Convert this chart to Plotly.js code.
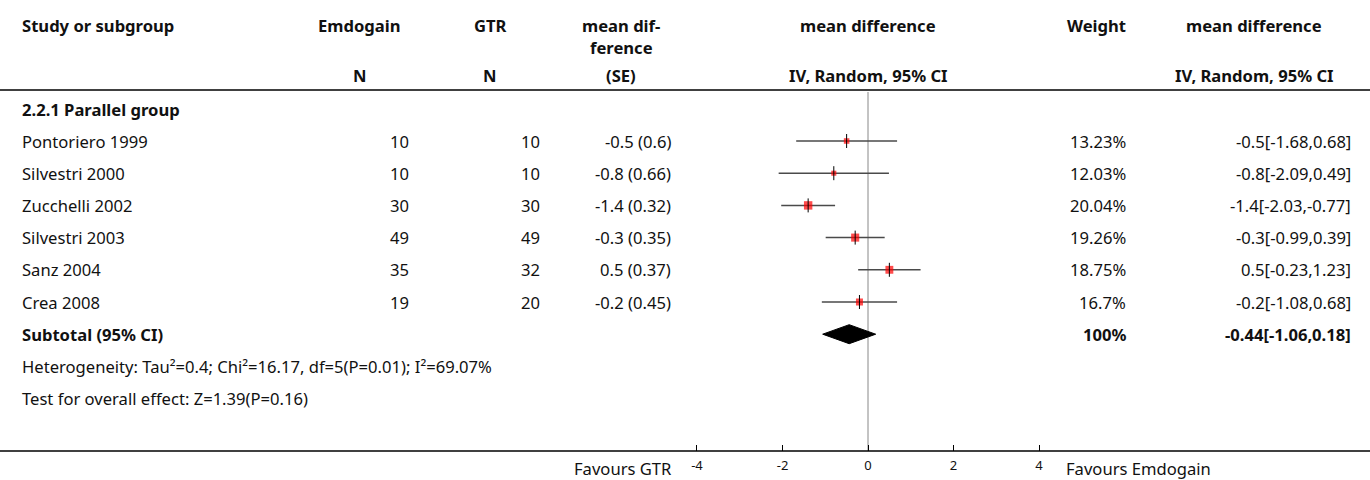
<!DOCTYPE html>
<html>
<head>
<meta charset="utf-8">
<script src="https://cdn.plot.ly/plotly-3.0.1.min.js"></script>
<style>html,body{margin:0;padding:0;background:#fff;}</style>
</head>
<body>
<div id="chart" style="width:1370px;height:480px;"></div>
<script>
// ---- data ----
const studies = ['Pontoriero 1999','Silvestri 2000','Zucchelli 2002','Silvestri 2003','Sanz 2004','Crea 2008'];
const nEmdogain = [10,10,30,49,35,19];
const nGTR = [10,10,30,49,32,20];
const meanDiff = [-0.5,-0.8,-1.4,-0.3,0.5,-0.2];
const seDiff = [0.6,0.66,0.32,0.35,0.37,0.45];
const ciLow = [-1.68,-2.09,-2.03,-0.99,-0.23,-1.08];
const ciHigh = [0.68,0.49,-0.77,0.39,1.23,0.68];
const weights = [13.23,12.03,20.04,19.26,18.75,16.7];
const subtotalMD = -0.44, subtotalLow = -1.06, subtotalHigh = 0.18, subtotalWeight = 100;
const groupLabel = '2.2.1 Parallel group';
const heterogeneity = 'Heterogeneity: Tau²=0.4; Chi²=16.17, df=5(P=0.01); I²=69.07%';
const overallTest = 'Test for overall effect: Z=1.39(P=0.16)';
const tickValues = [-4,-2,0,2,4];
const tickLabels = ['-4','-2','0','2','4'];
const leftLabel = 'Favours GTR', rightLabel = 'Favours Emdogain';

// ---- layout helpers ----
const W = 1370, H = 480, AXIS_Y = 451;
const ROW0 = 141, ROWH = 32.2;
const rowY = i => ROW0 + i * ROWH;
const px = x => x / W;
const py = y => 1 - y / H;
const FONT = 'Noto Sans, Open Sans, sans-serif';
const FS = 16.6;
const TXT = '#111';
// x axis: -4 at 697px, +4 at 1039px; range padded a little so end ticks are drawn
const X0PX = 697, X1PX = 1039, XPAD = 0.1;
const unit = (X1PX - X0PX) / 8;

const ann = [];
function t(text, x, y, anchor, bold, size, yref) {
  const dx = anchor === 'left' ? -2 : (anchor === 'right' ? 2 : 0);
  ann.push({text: bold ? '<b>' + text + '</b>' : text, xref: 'paper', yref: yref || 'y',
    x: px(x + dx), y: yref === 'paper' ? py(y) : y,
    xanchor: anchor, yanchor: 'middle', showarrow: false,
    font: {family: FONT, size: size || FS, color: TXT}});
}

// headers
t('Study or subgroup', 22, 25, 'left', true);
t('Emdogain', 359, 25, 'center', true);
t('GTR', 490, 25, 'center', true);
t('mean dif-', 621, 25, 'center', true);
t('ference', 621, 47, 'center', true);
t('mean difference', 868, 25, 'center', true);
t('Weight', 1096, 25, 'center', true);
t('mean difference', 1254, 25, 'center', true);
t('N', 360, 75, 'center', true);
t('N', 490, 75, 'center', true);
t('(SE)', 621, 75, 'center', true);
t('IV, Random, 95% CI', 868, 75, 'center', true);
t('IV, Random, 95% CI', 1254, 75, 'center', true);

t(groupLabel, 22, 109, 'left', true);
studies.forEach((s, i) => {
  const y = rowY(i);
  t(s, 22, y, 'left');
  t(String(nEmdogain[i]), 409, y, 'right');
  t(String(nGTR[i]), 540, y, 'right');
  t(meanDiff[i] + ' (' + seDiff[i] + ')', 671, y, 'right');
  t(weights[i] + '%', 1126, y, 'right');
  t(meanDiff[i] + '[' + ciLow[i] + ',' + ciHigh[i] + ']', 1351, y, 'right');
});
const ySub = rowY(studies.length);
t('Subtotal (95% CI)', 22, ySub, 'left', true);
t(subtotalWeight + '%', 1126, ySub, 'right', true);
t(subtotalMD + '[' + subtotalLow + ',' + subtotalHigh + ']', 1351, ySub, 'right', true);
t(heterogeneity, 22, rowY(studies.length + 1), 'left');
t(overallTest, 22, rowY(studies.length + 2), 'left');
t(leftLabel, 672, 468, 'right', false, FS, 'paper');
t(rightLabel, 1066, 468, 'left', false, FS, 'paper');

// ---- traces ----
const traces = [];
studies.forEach((s, i) => {
  traces.push({x: [ciLow[i], ciHigh[i]], y: [rowY(i), rowY(i)], mode: 'lines', type: 'scatter',
    line: {color: '#4a4a4a', width: 1.5}, hoverinfo: 'skip', showlegend: false});
});
traces.push({x: meanDiff, y: studies.map((s, i) => rowY(i)), mode: 'markers', type: 'scatter',
  marker: {symbol: 'square', color: '#ff0000', size: weights.map(w => w * 0.42), line: {width: 0}},
  showlegend: false});
traces.push({x: meanDiff, y: studies.map((s, i) => rowY(i)), mode: 'markers', type: 'scatter',
  marker: {symbol: 'line-ns', size: 10, line: {width: 1, color: '#000'}}, showlegend: false});
const dh = 9.5;
traces.push({x: [subtotalLow, subtotalMD, subtotalHigh, subtotalMD, subtotalLow],
  y: [ySub, ySub - dh, ySub, ySub + dh, ySub], mode: 'lines', type: 'scatter', fill: 'toself',
  fillcolor: '#000', line: {color: '#000', width: 1}, showlegend: false});

const layout = {
  width: W, height: H,
  margin: {l: 0, r: 0, t: 0, b: 0, pad: 0},
  paper_bgcolor: '#fff', plot_bgcolor: 'rgba(0,0,0,0)',
  showlegend: false,
  font: {family: FONT, size: FS, color: TXT},
  xaxis: {domain: [px(X0PX - XPAD * unit), px(X1PX + XPAD * unit)], range: [-4 - XPAD, 4 + XPAD],
    tickvals: tickValues, ticktext: tickLabels, ticks: 'inside',
    ticklen: 6, tickwidth: 1, tickcolor: '#000', showline: false, showgrid: false, zeroline: false,
    tickfont: {family: FONT, size: 13, color: TXT}, ticklabelstandoff: 5, fixedrange: true},
  yaxis: {domain: [py(AXIS_Y), 1], range: [AXIS_Y, 0], visible: false, showgrid: false,
    zeroline: false, fixedrange: true},
  shapes: [
    {type: 'line', xref: 'paper', yref: 'paper', x0: 0, x1: 1, y0: py(90), y1: py(90),
      line: {color: '#000', width: 1.6}},
    {type: 'line', xref: 'paper', yref: 'paper', x0: 0, x1: 1, y0: py(AXIS_Y), y1: py(AXIS_Y),
      line: {color: '#000', width: 1.6}},
    {type: 'line', xref: 'x', yref: 'paper', x0: 0, x1: 0, y0: py(AXIS_Y), y1: py(92),
      line: {color: '#888', width: 1}, layer: 'below'}
  ],
  annotations: ann
};
Plotly.newPlot('chart', traces, layout, {displayModeBar: false, staticPlot: true});
</script>
</body>
</html>
